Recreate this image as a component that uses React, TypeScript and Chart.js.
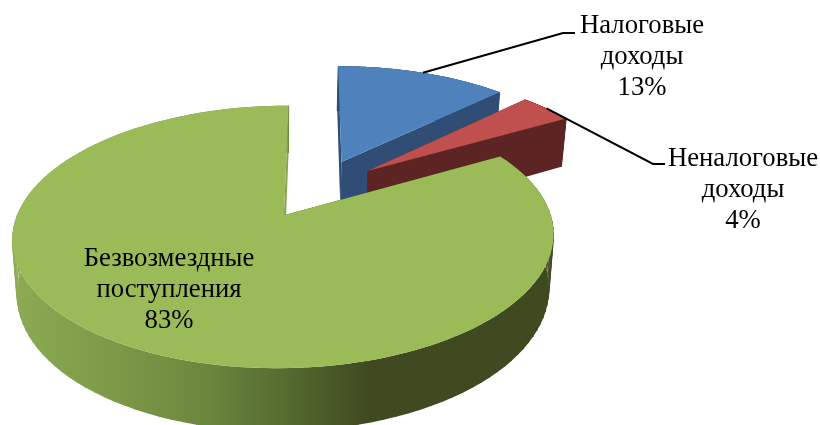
import React, { useEffect, useRef } from "react";
import { Chart, registerables } from "chart.js";

Chart.register(...registerables);

const categories = ["Налоговые доходы", "Неналоговые доходы", "Безвозмездные поступления"];
const shares = [12.7, 4.0, 83.3];
const topColors = ["#4f81bd", "#c0504d", "#9bbb59"];
const sideColors = ["#2f4d75", "#5c2523", "#3f4a21"];
const cutFaceColors = ["#2f4d75", "#5c2523", "#86a24e"];
const labelLines = [["Налоговые", "доходы"], ["Неналоговые", "доходы"], ["Безвозмездные", "поступления"]];

// label layout: centre x, first baseline y, leader elbow
const labelBoxes = [
  { x: 642, y: 33, elbow: [[563, 33], [575, 33]] },
  { x: 743, y: 165.5, elbow: [[653, 164], [665, 164]] },
  { x: 169, y: 266, elbow: null as null | number[][] },
];

// projective camera for the tilted pie
const CAM = { x0: 317.3, y0: 188.5, a: 257.6, b: 119, k: 0.16, explode: 0.25 };
const project = (u: number, v: number): [number, number] => {
  const w = 1 - CAM.k * v;
  return [CAM.x0 + (CAM.a * u) / w, CAM.y0 + (CAM.b * v) / w];
};
const drop = (p: [number, number]): [number, number] => [
  283 + 0.983 * (p[0] - 283),
  p[1] + 41 + 0.06 * p[1],
];

const fillPoly = (ctx: CanvasRenderingContext2D, pts: [number, number][], fill: any) => {
  ctx.beginPath();
  pts.forEach((p, i) => (i ? ctx.lineTo(p[0], p[1]) : ctx.moveTo(p[0], p[1])));
  ctx.closePath();
  ctx.fillStyle = fill;
  ctx.fill();
};

const piePlugin = {
  id: "tiltedPie",
  beforeDatasetDraw(chart: any) {
    const ctx: CanvasRenderingContext2D = chart.ctx;
    const meta = chart.getDatasetMeta(0);

    const geom = meta.data.map((arc: any) => {
      const s = arc.startAngle;
      const e = arc.endAngle;
      const mid = (s + e) / 2;
      const ou = Math.cos(mid) * CAM.explode;
      const ov = Math.sin(mid) * CAM.explode;
      const apex = project(ou, ov);
      const rim: [number, number][] = [];
      const n = 120;
      for (let i = 0; i <= n; i++) {
        const t = s + ((e - s) * i) / n;
        rim.push(project(ou + Math.cos(t), ov + Math.sin(t)));
      }
      return { apex, rim, midPt: project(ou + Math.cos(mid), ov + Math.sin(mid)) };
    });

    const rimGradient = ctx.createLinearGradient(12, 0, 553, 0);
    rimGradient.addColorStop(0, "#8cab53");
    rimGradient.addColorStop(0.16, "#7f9c4a");
    rimGradient.addColorStop(0.36, "#6b873d");
    rimGradient.addColorStop(0.5, "#566c30");
    rimGradient.addColorStop(0.66, "#3f4a21");
    rimGradient.addColorStop(1, "#3f4a21");

    geom.forEach((g: any, i: number) => {
      const side = i === 2 ? rimGradient : sideColors[i];
      const bottomRim = g.rim.map(drop);
      const last = g.rim.length - 1;
      // outer wall, swept from the top rim to the bottom rim
      fillPoly(ctx, [...g.rim, ...bottomRim.slice().reverse()], side);
      ctx.strokeStyle = side;
      ctx.lineWidth = 1;
      g.rim.forEach((p: [number, number], j: number) => {
        ctx.beginPath();
        ctx.moveTo(p[0], p[1]);
        ctx.lineTo(bottomRim[j][0], bottomRim[j][1]);
        ctx.stroke();
      });
      // cut faces
      fillPoly(ctx, [g.apex, g.rim[0], bottomRim[0], drop(g.apex)], sideColors[i]);
      fillPoly(ctx, [g.apex, g.rim[last], bottomRim[last], drop(g.apex)], cutFaceColors[i]);
      // top face
      fillPoly(ctx, [g.apex, ...g.rim], topColors[i]);
    });

    ctx.strokeStyle = "#000";
    ctx.lineWidth = 2;
    labelBoxes.forEach((box, i) => {
      if (!box.elbow) return;
      ctx.beginPath();
      ctx.moveTo(geom[i].midPt[0], geom[i].midPt[1]);
      box.elbow.forEach((p) => ctx.lineTo(p[0], p[1]));
      ctx.stroke();
    });

    ctx.fillStyle = "#000";
    ctx.font = '26.7px "Liberation Serif"';
    ctx.textAlign = "center";
    ctx.textBaseline = "alphabetic";
    labelBoxes.forEach((box, i) => {
      const lines = [...labelLines[i], Math.round(shares[i]) + "%"];
      lines.forEach((t, j) => ctx.fillText(t, box.x, box.y + j * 31));
    });
    return false;
  },
};

export default function App() {
  const ref = useRef<HTMLCanvasElement>(null);
  useEffect(() => {
    document.body.style.margin = "0";
    const chart = new Chart(ref.current as HTMLCanvasElement, {
      type: "pie",
      data: {
        labels: categories,
        datasets: [{ data: shares, backgroundColor: topColors, borderWidth: 0 }],
      },
      options: {
        animation: false,
        responsive: false,
        plugins: { legend: { display: false }, tooltip: { enabled: false } },
      },
      plugins: [piePlugin],
    } as any);
    return () => chart.destroy();
  }, []);
  return <canvas ref={ref} width={820} height={425} style={{ display: "block" }} />;
}
